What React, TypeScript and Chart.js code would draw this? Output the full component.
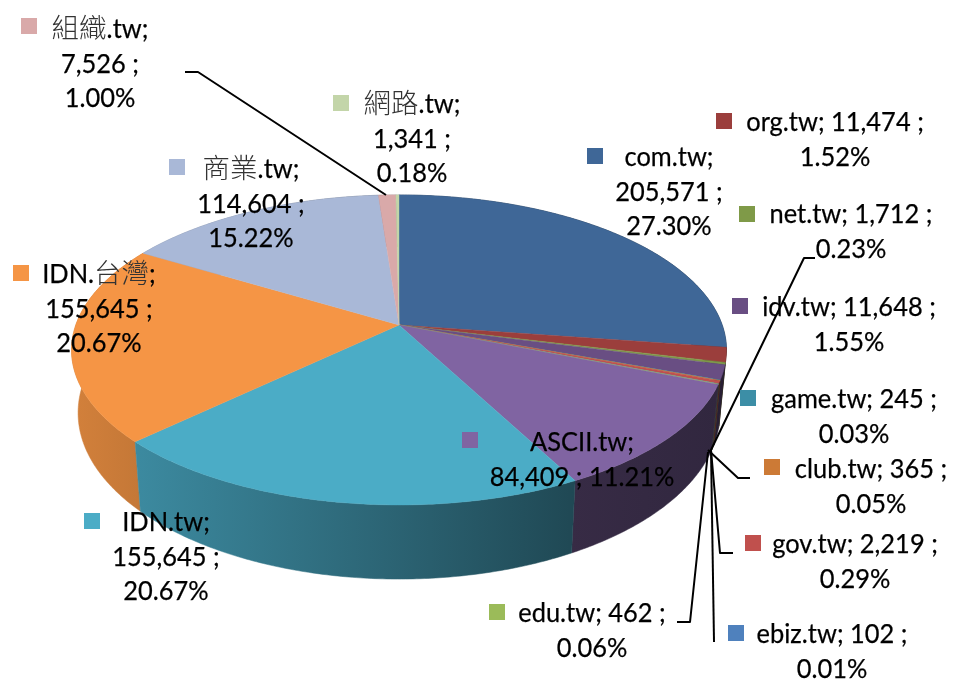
import React, { useEffect, useRef } from "react";
import { Chart, registerables } from "chart.js";

Chart.register(...registerables);

const names = ["com.tw", "org.tw", "net.tw", "idv.tw", "game.tw", "club.tw", "gov.tw", "ebiz.tw", "edu.tw", "ASCII.tw", "IDN.tw", "IDN.台灣", "商業.tw", "組織.tw", "網路.tw"];
const counts = [205571, 11474, 1712, 11648, 245, 365, 2219, 102, 462, 84409, 155645, 155645, 114604, 7526, 1341];
const countLabels = ["205,571", "11,474", "1,712", "11,648", "245", "365", "2,219", "102", "462", "84,409", "155,645", "155,645", "114,604", "7,526", "1,341"];
const percents = ["27.30%", "1.52%", "0.23%", "1.55%", "0.03%", "0.05%", "0.29%", "0.01%", "0.06%", "11.21%", "20.67%", "20.67%", "15.22%", "1.00%", "0.18%"];
const colors = ["#3f6797", "#9b3e3c", "#7f9a48", "#694e83", "#3c8ea6", "#cc7a36", "#c0504d", "#4f81bd", "#9bbb59", "#8064a2", "#4bacc6", "#f59545", "#a9b8d7", "#d9a9a9", "#c3d5a9"];

// Label layout: legend key top-left, text centre, first baseline, line breaks
// form: 3 = name / count / pct, 2 = name count / pct, 1 = name / count pct
const labelBoxes = [
  { kx: 587, ky: 148, cx: 669, base: 166, form: 3 },
  { kx: 716, ky: 113, cx: 835, base: 131, form: 2 },
  { kx: 739, ky: 206, cx: 851, base: 223, form: 2 },
  { kx: 732, ky: 298, cx: 849, base: 316, form: 2 },
  { kx: 740, ky: 390, cx: 854, base: 408, form: 2 },
  { kx: 764, ky: 459, cx: 871, base: 478, form: 2 },
  { kx: 745, ky: 535, cx: 855, base: 553, form: 2 },
  { kx: 728, ky: 625, cx: 832, base: 643, form: 2 },
  { kx: 489, ky: 604, cx: 592, base: 622, form: 2 },
  { kx: 462, ky: 432, cx: 582, base: 451, form: 1 },
  { kx: 84, ky: 513, cx: 166, base: 531, form: 3 },
  { kx: 13, ky: 265, cx: 99, base: 283, form: 3 },
  { kx: 169, ky: 159, cx: 251, base: 178, form: 3 },
  { kx: 21, ky: 18, cx: 100, base: 38, form: 3 },
  { kx: 333, ky: 95, cx: 412, base: 113, form: 3 },
];

const leaderPaths = [
  [[185, 72], [198, 72], [386, 195]],
  [[815, 258], [804, 258], [710, 452]],
  [[750, 478], [738, 478], [708, 450]],
  [[733, 553], [720, 553], [711, 450]],
  [[714, 642], [711, 450]],
  [[677, 622], [690, 622], [708, 452]],
];

const CX = 399, CY = 325, PERSP = 0.161, RY = 151, RX = 323.2;
const BOTTOM_SCALE_X = 0.98, BOTTOM_Y0 = 386, BOTTOM_RY = 162;
const LINE_GAP = 34.5, FONT_PX = 27.5, LATIN_SQUEEZE = 0.925;

const topPoint = (th: number) => {
  const u = Math.sin(th), v = -Math.cos(th), t = 1 / (1 - PERSP * v);
  return [CX + RX * u * t, CY + RY * v * t];
};
const bottomPoint = (th: number) => {
  const u = Math.sin(th), v = -Math.cos(th), t = 1 / (1 - PERSP * v);
  return [CX + BOTTOM_SCALE_X * RX * u * t, BOTTOM_Y0 + BOTTOM_RY * v * t];
};
const sweep = (a: number, b: number) => {
  const n = Math.max(2, Math.ceil((b - a) / 0.01));
  const out: number[] = [];
  for (let i = 0; i <= n; i++) out.push(a + ((b - a) * i) / n);
  return out;
};
const shaded = (hex: string, f: number) => {
  const n = parseInt(hex.slice(1), 16);
  return `rgb(${((n >> 16) & 255) * f | 0},${((n >> 8) & 255) * f | 0},${(n & 255) * f | 0})`;
};

const isCjk = (c: string) => c.charCodeAt(0) > 0x2e80;
const runsOf = (s: string) => {
  const runs: { text: string; cjk: boolean }[] = [];
  for (const c of s) {
    const k = isCjk(c);
    if (runs.length && runs[runs.length - 1].cjk === k) runs[runs.length - 1].text += c;
    else runs.push({ text: c, cjk: k });
  }
  return runs;
};

function drawLine(ctx: CanvasRenderingContext2D, s: string, cx: number, y: number) {
  const runs = runsOf(s);
  const fontOf = (cjk: boolean) => (cjk ? `300 ${FONT_PX}px "Noto Sans CJK TC"` : `400 ${FONT_PX}px Lato`);
  let total = 0;
  const widths = runs.map((r) => {
    ctx.font = fontOf(r.cjk);
    const w = ctx.measureText(r.text).width * (r.cjk ? 1 : LATIN_SQUEEZE);
    total += w;
    return w;
  });
  let x = cx - total / 2;
  runs.forEach((r, i) => {
    ctx.save();
    ctx.font = fontOf(r.cjk);
    ctx.textAlign = "left";
    ctx.textBaseline = "alphabetic";
    ctx.fillStyle = r.cjk ? "#333333" : "#000000";
    ctx.translate(x, y);
    ctx.scale(r.cjk ? 1 : LATIN_SQUEEZE, 1);
    ctx.fillText(r.text, 0, 0);
    if (!r.cjk) {
      ctx.strokeStyle = "#000000";
      ctx.lineWidth = 0.25;
      ctx.strokeText(r.text, 0, 0);
    }
    ctx.restore();
    x += widths[i];
  });
}

const pie3d = {
  id: "pie3d",
  beforeDatasetsDraw(chart: any) {
    const ctx: CanvasRenderingContext2D = chart.ctx;
    const arcs = chart.getDatasetMeta(0).data.map((el: any, i: number) => ({
      i,
      a: el.startAngle + Math.PI / 2,
      b: el.endAngle + Math.PI / 2,
    }));
    const wallOrder = [...arcs].sort(
      (p: any, q: any) => -Math.cos((p.a + p.b) / 2) + Math.cos((q.a + q.b) / 2)
    );
    for (const arc of wallOrder) {
      const ths = sweep(arc.a, arc.b);
      const g = ctx.createLinearGradient(75, 0, 720, 0);
      g.addColorStop(0, shaded(colors[arc.i], 0.86));
      g.addColorStop(0.767, shaded(colors[arc.i], 0.43));
      g.addColorStop(1, shaded(colors[arc.i], 0.39));
      ctx.beginPath();
      ths.forEach((t, k) => {
        const [x, y] = topPoint(t);
        k ? ctx.lineTo(x, y) : ctx.moveTo(x, y);
      });
      [...ths].reverse().forEach((t) => {
        const [x, y] = bottomPoint(t);
        ctx.lineTo(x, y);
      });
      ctx.closePath();
      ctx.fillStyle = g;
      ctx.strokeStyle = g;
      ctx.lineWidth = 0.5;
      ctx.fill();
      ctx.stroke();
    }
    for (const arc of arcs) {
      ctx.beginPath();
      ctx.moveTo(CX, CY);
      sweep(arc.a, arc.b).forEach((t) => {
        const [x, y] = topPoint(t);
        ctx.lineTo(x, y);
      });
      ctx.closePath();
      ctx.fillStyle = colors[arc.i];
      ctx.strokeStyle = colors[arc.i];
      ctx.lineWidth = 0.4;
      ctx.fill();
      ctx.stroke();
    }
    return false;
  },
  afterDraw(chart: any) {
    const ctx: CanvasRenderingContext2D = chart.ctx;
    ctx.save();
    ctx.strokeStyle = "#000000";
    ctx.lineWidth = 2;
    ctx.lineJoin = "round";
    for (const path of leaderPaths) {
      ctx.beginPath();
      path.forEach(([x, y], k) => (k ? ctx.lineTo(x, y) : ctx.moveTo(x, y)));
      ctx.stroke();
    }
    names.forEach((name, i) => {
      const box = labelBoxes[i];
      ctx.fillStyle = colors[i];
      ctx.fillRect(box.kx, box.ky, 16, 16);
      const lines =
        box.form === 3
          ? [`${name};`, `${countLabels[i]} ;`, percents[i]]
          : box.form === 2
          ? [`${name}; ${countLabels[i]} ;`, percents[i]]
          : [`${name};`, `${countLabels[i]} ; ${percents[i]}`];
      lines.forEach((s, k) => drawLine(ctx, s, box.cx, box.base + k * LINE_GAP));
    });
    ctx.restore();
  },
};

export default function App() {
  const ref = useRef<HTMLCanvasElement>(null);
  useEffect(() => {
    const chart = new Chart(ref.current!, {
      type: "pie",
      data: { labels: names, datasets: [{ data: counts, backgroundColor: colors, borderWidth: 0 }] },
      options: {
        responsive: false,
        animation: false,
        rotation: 0,
        plugins: { legend: { display: false }, tooltip: { enabled: false } },
      },
      plugins: [pie3d],
    } as any);
    return () => chart.destroy();
  }, []);
  return (
    <div style={{ position: "absolute", left: 0, top: 0, width: 971, height: 681, background: "#fff" }}>
      <canvas ref={ref} width={971} height={681} style={{ display: "block" }} />
    </div>
  );
}
